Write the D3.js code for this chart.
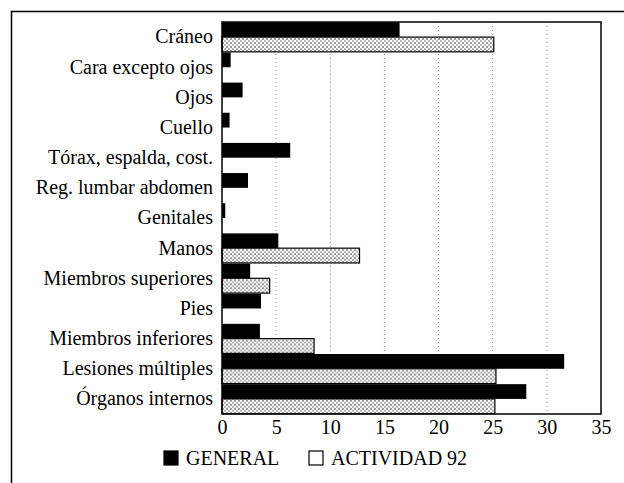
<!DOCTYPE html>
<html>
<head>
<meta charset="utf-8">
<script src="https://cdn.jsdelivr.net/npm/d3@7"></script>
<style>
  body { margin: 0; background: #fff; }
  svg text { font-family: "Liberation Serif", "Times New Roman", Times, Tinos, "DejaVu Serif", "Noto Serif", serif; }
</style>
</head>
<body>
<div id="wrapper"></div>
<script>
// data
const categories = [
  "Cráneo", "Cara excepto ojos", "Ojos", "Cuello", "Tórax, espalda, cost.",
  "Reg. lumbar abdomen", "Genitales", "Manos", "Miembros superiores", "Pies",
  "Miembros inferiores", "Lesiones múltiples", "Órganos internos"
]
const generalValues = [16.4, 0.8, 1.9, 0.7, 6.3, 2.4, 0.3, 5.2, 2.6, 3.6, 3.5, 31.6, 28.1]
const actividadValues = [25.1, 0, 0, 0, 0, 0, 0, 12.7, 4.4, 0, 8.5, 25.3, 25.2]
const xTicks = [0, 5, 10, 15, 20, 25, 30, 35]
const seriesNames = ["GENERAL", "ACTIVIDAD 92"]

const rows = categories.map((c, i) => ({
  cat: c, general: generalValues[i], actividad: actividadValues[i]
}))

// dimensions
let dimensions = {
  width: 624,
  height: 483,
  margin: { top: 22, right: 23, bottom: 69, left: 222 }
}
dimensions.boundWidth = dimensions.width - dimensions.margin.left - dimensions.margin.right
dimensions.boundHeight = dimensions.height - dimensions.margin.top - dimensions.margin.bottom

const wrapper = d3.select("#wrapper")
  .append("svg")
    .attr("width", dimensions.width)
    .attr("height", dimensions.height)

// speckled fill used for the second series
const defs = wrapper.append("defs")
const pat = defs.append("pattern")
  .attr("id", "speckle")
  .attr("patternUnits", "userSpaceOnUse")
  .attr("width", 4)
  .attr("height", 4)
pat.append("rect").attr("width", 4).attr("height", 4).attr("fill", "#fff")
pat.append("rect").attr("width", 2).attr("height", 2).attr("fill", "#9a9a9a")
pat.append("rect").attr("x", 2).attr("y", 2).attr("width", 2).attr("height", 2).attr("fill", "#b5b5b5")

// outer frame (runs off the right and bottom of the picture)
wrapper.append("rect")
  .attr("x", 11.5)
  .attr("y", 11.5)
  .attr("width", 640)
  .attr("height", 500)
  .attr("fill", "none")
  .attr("stroke", "#000")
  .attr("stroke-width", 1.5)

const bounds = wrapper.append("g")
  .attr("transform", `translate(${dimensions.margin.left}, ${dimensions.margin.top})`)

// scales
const xScale = d3.scaleLinear()
  .domain([0, 35])
  .range([0, dimensions.boundWidth])

const yScale = d3.scaleBand()
  .domain(categories)
  .range([0, dimensions.boundHeight])
  .paddingInner(0)

const subScale = d3.scaleBand()
  .domain(["general", "actividad"])
  .range([0, yScale.bandwidth()])
  .paddingOuter(0.02)

// grid lines
bounds.append("g")
  .selectAll("line")
  .data(xTicks.filter(t => t > 0 && t < 35))
  .join("line")
    .attr("x1", d => xScale(d))
    .attr("x2", d => xScale(d))
    .attr("y1", 0)
    .attr("y2", dimensions.boundHeight)
    .attr("stroke", "#8a8a8a")
    .attr("stroke-dasharray", "1,3")

// bars
const groups = bounds.append("g")
  .selectAll("g")
  .data(rows)
  .join("g")
    .attr("transform", d => `translate(0, ${yScale(d.cat)})`)

groups.append("rect")
  .attr("x", 0)
  .attr("y", subScale("general"))
  .attr("width", d => xScale(d.general))
  .attr("height", subScale.bandwidth())
  .attr("fill", "#000")

groups.filter(d => d.actividad > 0)
  .append("rect")
  .attr("x", 0)
  .attr("y", subScale("actividad"))
  .attr("width", d => xScale(d.actividad))
  .attr("height", subScale.bandwidth())
  .attr("fill", "url(#speckle)")
  .attr("stroke", "#000")
  .attr("stroke-width", 1.2)

// plot frame
bounds.append("rect")
  .attr("width", dimensions.boundWidth)
  .attr("height", dimensions.boundHeight)
  .attr("fill", "none")
  .attr("stroke", "#000")
  .attr("stroke-width", 1.5)

// x axis
const xAxis = bounds.append("g")
  .attr("id", "x-axis")
  .attr("transform", `translate(0, ${dimensions.boundHeight})`)
  .call(d3.axisBottom(xScale).tickValues(xTicks).tickSize(0).tickPadding(6))
xAxis.select(".domain").remove()
xAxis.selectAll(".tick text")
  .attr("font-size", 20)
  .attr("fill", "#000")

// y axis
const yAxis = bounds.append("g")
  .attr("id", "y-axis")
  .call(d3.axisLeft(yScale).tickSize(0).tickPadding(9))
yAxis.select(".domain").remove()
yAxis.selectAll(".tick text")
  .attr("font-size", 20)
  .attr("fill", "#000")

// legend
const legend = wrapper.append("g")
  .attr("transform", "translate(164, 458)")
const legendItems = [
  { name: seriesNames[0], x: 0, fill: "#000" },
  { name: seriesNames[1], x: 145, fill: "#fff" }
]
legend.selectAll("rect")
  .data(legendItems)
  .join("rect")
    .attr("x", d => d.x)
    .attr("y", -7)
    .attr("width", 14)
    .attr("height", 14)
    .attr("fill", d => d.fill)
    .attr("stroke", "#000")
    .attr("stroke-width", 1.2)
legend.selectAll("text")
  .data(legendItems)
  .join("text")
    .attr("x", d => d.x + 22)
    .attr("y", 0)
    .attr("dy", "0.35em")
    .attr("font-size", 20)
    .text(d => d.name)
</script>
</body>
</html>
